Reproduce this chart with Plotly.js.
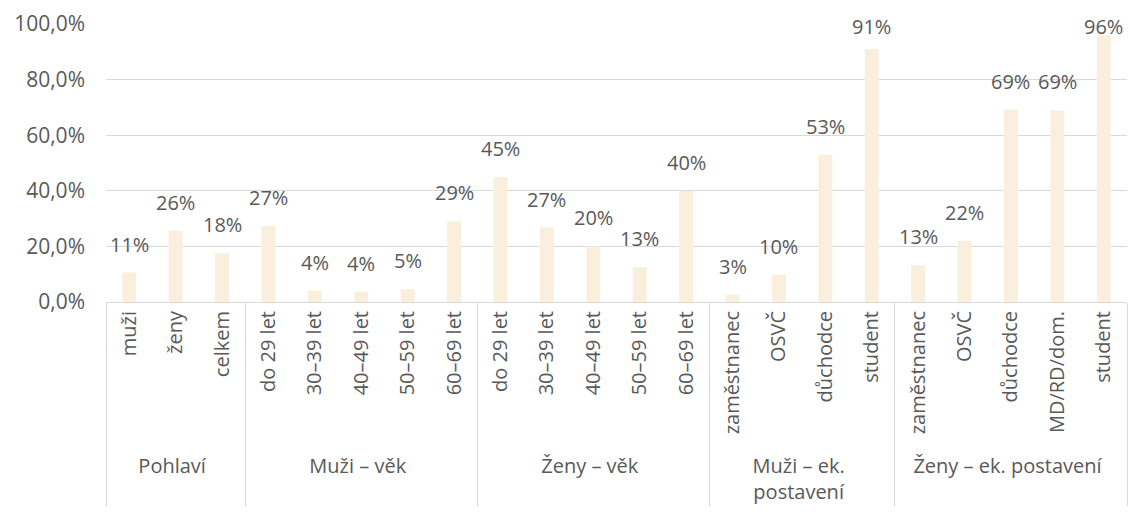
<!DOCTYPE html>
<html>
<head>
<meta charset="utf-8">
<script src="https://cdn.plot.ly/plotly-3.0.1.min.js"></script>
<style>html,body{margin:0;padding:0;background:#fff;}#chart{width:1130px;height:517px;}</style>
</head>
<body>
<div id="chart"></div>
<script>
const groupNames = ["Pohlaví", "Muži – věk", "Ženy – věk", "Muži – ek.<br>postavení", "Ženy – ek. postavení"];
const groupCounts = [3, 5, 5, 4, 5];
const categories = [
  "muži", "ženy", "celkem",
  "do 29 let", "30–39 let", "40–49 let", "50–59 let", "60–69 let",
  "do 29 let", "30–39 let", "40–49 let", "50–59 let", "60–69 let",
  "zaměstnanec", "OSVČ", "důchodce", "student",
  "zaměstnanec", "OSVČ", "důchodce", "MD/RD/dom.", "student"
];
const values = [
  0.106, 0.256, 0.176,
  0.273, 0.041, 0.037, 0.046, 0.29,
  0.45, 0.268, 0.2, 0.125, 0.40,
  0.026, 0.098, 0.53, 0.91,
  0.132, 0.22, 0.692, 0.69, 0.96
];
const yTickVals = [0, 0.2, 0.4, 0.6, 0.8, 1.0];

const groups = [];
groupNames.forEach((g, i) => { for (let k = 0; k < groupCounts[i]; k++) groups.push(g); });
// keep the repeated "student" label in its own group order (plotly orders inner labels by first appearance)
const xCats = categories.map((c, i) => {
  const repeated = categories.slice(0, i).lastIndexOf(c) >= 0;
  return repeated && c === "student" ? c + "\u200b" : c;
});

const font = "'Open Sans', sans-serif";
const textColor = "#595959";
const M = { l: 106, r: 3, t: 24, b: 215 };
const H = 517, W = 1130;
const plotH = H - M.t - M.b;

const trace = {
  type: "bar",
  x: [groups, xCats],
  y: values,
  marker: { color: "#faefdc" },
  hoverinfo: "none"
};

// data labels above bars (kept inside the chart area like the original)
const annotations = values.map((v, i) => {
  const barTop = M.t + (1 - v) * plotH;
  return {
    x: i, y: v, xref: "x", yref: "y",
    text: Math.round(v * 100) + "%",
    showarrow: false,
    xanchor: "center", yanchor: "bottom",
    yshift: Math.min(13, barTop - 42),
    font: { family: font, size: 20, color: textColor }
  };
});

const layout = {
  width: W, height: H,
  margin: M,
  paper_bgcolor: "#fff", plot_bgcolor: "#fff",
  separators: ", ",
  showlegend: false,
  bargap: 0.7,
  font: { family: font, size: 20, color: textColor },
  annotations: annotations,
  yaxis: {
    range: [0, 1.0],
    tickvals: yTickVals,
    tickformat: ".1%",
    gridcolor: "#d9d9d9", gridwidth: 1,
    zeroline: false,
    showline: false,
    ticks: "",
    ticklen: 0,
    ticklabelstandoff: 20,
    tickfont: { family: font, size: 21, color: textColor }
  },
  xaxis: {
    type: "multicategory",
    tickangle: -90,
    showline: true, linecolor: "#d9d9d9", linewidth: 1,
    showdividers: true, dividercolor: "#d9d9d9", dividerwidth: 1,
    ticks: "",
    tickfont: { family: font, size: 20, color: textColor },
    showgrid: false
  }
};

Plotly.newPlot("chart", [trace], layout, { displayModeBar: false, staticPlot: true });
</script>
</body>
</html>
